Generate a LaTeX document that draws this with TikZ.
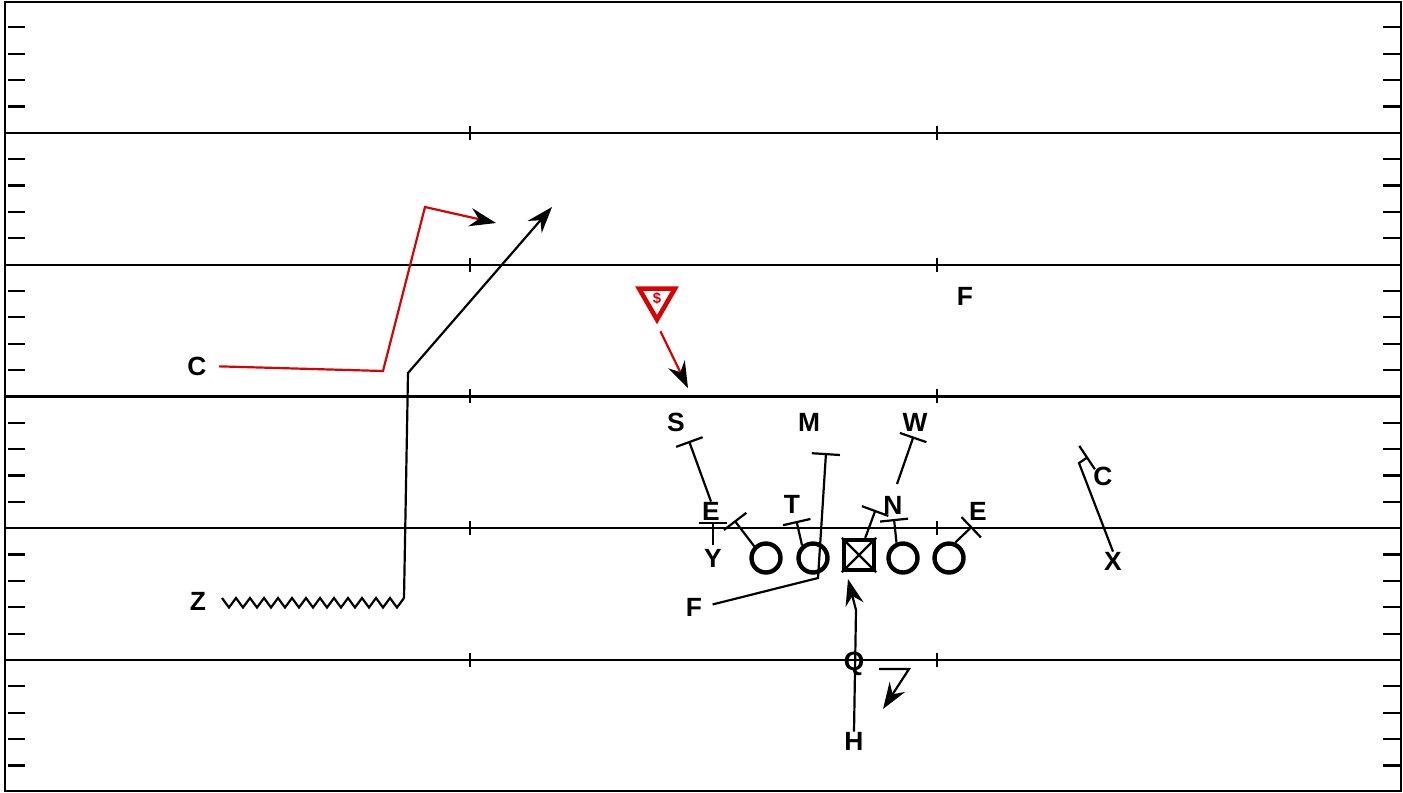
\documentclass[tikz,border=0pt]{standalone}
\usepackage{fontspec}
\setsansfont{Liberation Sans}
\usetikzlibrary{arrows.meta,shapes.geometric}
\definecolor{cRed}{RGB}{220,0,0}

\tikzset{
  fieldline/.style={line width=1.25pt},
  hashmark/.style={line width=1.25pt},
  route/.style={line width=1.25pt,-{Stealth[length=15pt,width=10.5pt,inset=5pt]}},
  redroute/.style={line width=1.25pt,draw=cRed,-{Stealth[length=15pt,width=10.5pt,inset=5pt,black]}},
  blockline/.style={line width=1.25pt,-{Bar[width=16pt]}},
  lbl/.style={font=\sffamily\bfseries\fontsize{15}{15}\selectfont,inner sep=0pt},
  player/.style={circle,draw,line width=2.5pt,minimum size=16.5pt,inner sep=0pt},
}

\begin{document}
\begin{tikzpicture}[x=0.02cm,y=-0.02cm]
\useasboundingbox (0,0) rectangle (1403,792);
% field
\draw[fieldline] (5,2) rectangle (1401,791);
\foreach \j in {1,...,5} {
  \draw[fieldline] (5,{1+131.8*\j}) -- (1401,{1+131.8*\j});
  \draw[hashmark] (470,{1+131.8*\j-7}) -- ++(0,14);
  \draw[hashmark] (937,{1+131.8*\j-7}) -- ++(0,14);
}
\foreach \j in {0,...,5} {
  \foreach \m in {1,...,4} {
    \draw[hashmark] (8,{1+131.8*\j+26.36*\m}) -- ++(17,0);
    \draw[hashmark] (1383,{1+131.8*\j+26.36*\m}) -- ++(17,0);
  }
}
% offense
\node[player] (o1) at (766,558) {};
\node[player] (o2) at (813,558) {};
\node[draw,line width=2.5pt,minimum size=17pt,inner sep=0pt] (ctr) at (859,555) {};
\draw[line width=1.25pt] (ctr.north west) -- (ctr.south east) (ctr.north east) -- (ctr.south west);
\node[player] (o3) at (903,558) {};
\node[player] (o4) at (949,558) {};
% labels
\node[lbl] (Cl) at (197,366) {C};
\node[lbl] (Zl) at (198,601) {Z};
\node[lbl] (Yl) at (713,558) {Y};
\node[lbl] (Fl) at (694,607) {F};
\node[lbl] (Ql) at (854,664) {Q};
\node[lbl] (Hl) at (854,741) {H};
\node[lbl] (Xl) at (1113,561) {X};
\node[lbl] (Cr) at (1103,476) {C};
\node[lbl] (Ft) at (965,296) {F};
\node[lbl] (Sl) at (676,422) {S};
\node[lbl] (Ml) at (809,422) {M};
\node[lbl] (Wl) at (915,422) {W};
\node[lbl] (E1) at (711,511) {E};
\node[lbl] (Tl) at (792,504) {T};
\node[lbl] (Nl) at (893,505) {N};
\node[lbl] (E2) at (978,511) {E};
% safety
\node[regular polygon,regular polygon sides=3,shape border rotate=180,draw=cRed,
  line width=2.6pt,minimum size=23.5pt,inner sep=0pt,text=cRed,
  font=\sffamily\bfseries\fontsize{8.5}{8.5}\selectfont] (sf) at (657,299) {\$};
\draw[redroute,shorten <=4.5pt] (sf.south) -- (688,388);
% routes
\draw[redroute,shorten <=7pt] (Cl.east) -- (383,371) -- (425,207) -- (496,223);
\coordinate (zst) at (222,598);
\draw[line width=1.25pt] (zst) \foreach \i in {1,...,13} { -- ++(7,9.5) -- ++(7,-9.5) } coordinate (zend);
\draw[route] (zend) -- (408,373) -- (552,207);
\draw[route] (Hl.north) -- (856,610) -- (848,579);
\coordinate (qst) at (879,669);
\draw[route] (qst) -- (909,669) -- (883,709);
% blocks
\draw[blockline,shorten <=2pt] (Yl.north) -- (713,522);
\draw[blockline] (E1.north) -- (689,441);
\draw[blockline] (o1.135) -- (734.5,520.5);
\draw[blockline] (o2.131) -- (796.5,521);
\draw[blockline,shorten <=6pt] (Fl.east) -- (818,578) -- (826,453);
\draw[blockline] (ctr.70) -- (875.5,510);
\draw[blockline] (o3.113) -- (894,519);
\draw[blockline,shorten <=7pt] (Nl.north) -- (913.5,436.5);
\draw[blockline] (o4.68) -- (972,526.5);
\draw[blockline] (Xl.north) -- (1079,463) -- (1088,457);
\end{tikzpicture}
\end{document}
